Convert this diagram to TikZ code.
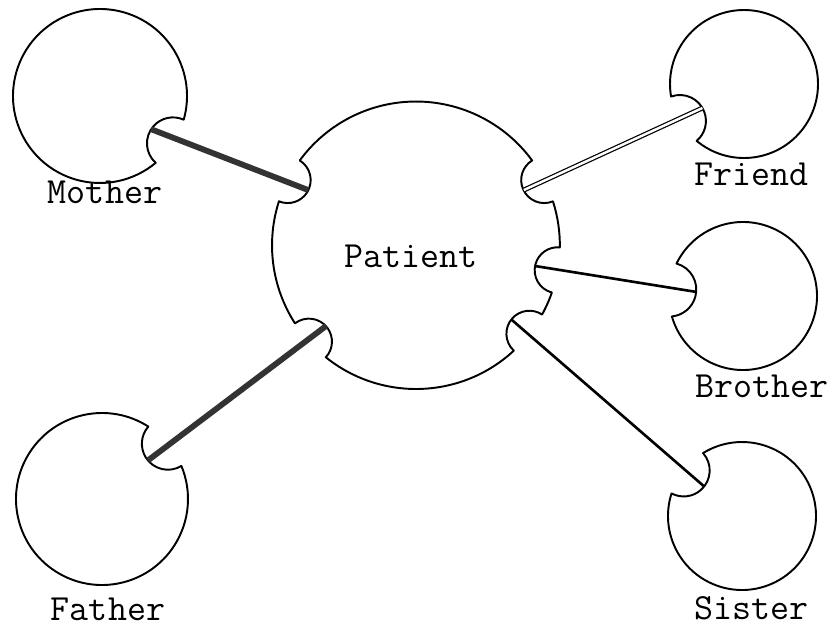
\documentclass[tikz,border=0pt]{standalone}
\usepackage{fontspec}
\usetikzlibrary{calc}
\tikzset{
	outline/.style={line width=1.1pt, line join=round},
	who/.style={font=\ttfamily\fontsize{21}{23}\selectfont, inner sep=1pt},
	heavy/.style={line width=3.3pt, black!80},
	plain/.style={line width=1.5pt},
	twin/.style={double, double distance=1.4pt, line width=0.7pt}
}
% circle with one bite out of it: centre, radius, bite angle, bite radius
\newcommand{\pacman}[4]{%
	\pgfmathsetmacro{\hb}{asin(#4/(2*#2))}
	\draw[outline] (#1) ++(#3+2*\hb:#2)
		arc[start angle=#3+2*\hb, end angle=#3+360-2*\hb, radius=#2]
		arc[start angle=#3+270-\hb, end angle=#3+90+\hb, radius=#4] -- cycle;
}
\begin{document}
\begin{tikzpicture}[x=0.02cm, y=0.02cm]
	\fill[white] (0,0) rectangle (835,627);
	\useasboundingbox (0,0) rectangle (835,627);
	% Centres of the circles
	\coordinate (patient) at (416,382);
	\coordinate (mother) at (100,531);
	\coordinate (father) at (102,128);
	\coordinate (friend) at (744,543);
	\coordinate (brother) at (743,331);
	\coordinate (sister) at (742,111);
	% Bottoms of the bites
	\coordinate (pa-mo) at ($(patient)+(153:121)$);
	\coordinate (pa-fr) at ($(patient)+(27:121)$);
	\coordinate (pa-br) at ($(patient)+(-10:121)$);
	\coordinate (pa-si) at ($(patient)+(-38:121)$);
	\coordinate (pa-fa) at ($(patient)+(-138:121)$);
	\coordinate (mo-pa) at ($(mother)+(-33:61)$);
	\coordinate (fa-pa) at ($(father)+(40:60)$);
	\coordinate (fr-pa) at ($(friend)+(210:48)$);
	\coordinate (br-pa) at ($(brother)+(175:47)$);
	\coordinate (si-pa) at ($(sister)+(142:48)$);
	% The patient, with five bites
	\def\pa{9.2}
	\def\ph{4.6}
	\draw[outline] (patient) ++(-138+\pa:144)
		arc[start angle=-138+\pa, end angle=-38-\pa, radius=144]
		arc[start angle=-38+270-\ph, end angle=-38+90+\ph, radius=23]
		arc[start angle=-38+\pa, end angle=-10-\pa, radius=144]
		arc[start angle=-10+270-\ph, end angle=-10+90+\ph, radius=23]
		arc[start angle=-10+\pa, end angle=27-\pa, radius=144]
		arc[start angle=27+270-\ph, end angle=27+90+\ph, radius=23]
		arc[start angle=27+\pa, end angle=153-\pa, radius=144]
		arc[start angle=153+270-\ph, end angle=153+90+\ph, radius=23]
		arc[start angle=153+\pa, end angle=222-\pa, radius=144]
		arc[start angle=222+270-\ph, end angle=222+90+\ph, radius=23] -- cycle;
	% The others
	\pacman{mother}{87}{-33}{26}
	\pacman{father}{86}{40}{26}
	\pacman{friend}{74}{210}{26}
	\pacman{brother}{74}{175}{27}
	\pacman{sister}{74}{142}{26}
	% Ties
	\draw[heavy] (pa-mo) -- (mo-pa);
	\draw[heavy] (pa-fa) -- (fa-pa);
	\draw[twin] (pa-fr) -- (fr-pa);
	\draw[plain] (pa-br) -- (br-pa);
	\draw[plain] (pa-si) -- (si-pa);
	% Names
	\node[who] (patient-name) at (411,371) {Patient};
	\node[who] (mother-name) at (105,435) {Mother};
	\node[who] (father-name) at (108,18) {Father};
	\node[who] (friend-name) at (751,453) {Friend};
	\node[who] (brother-name) at (762,241) {Brother};
	\node[who] (sister-name) at (751,19) {Sister};
\end{tikzpicture}
\end{document}
